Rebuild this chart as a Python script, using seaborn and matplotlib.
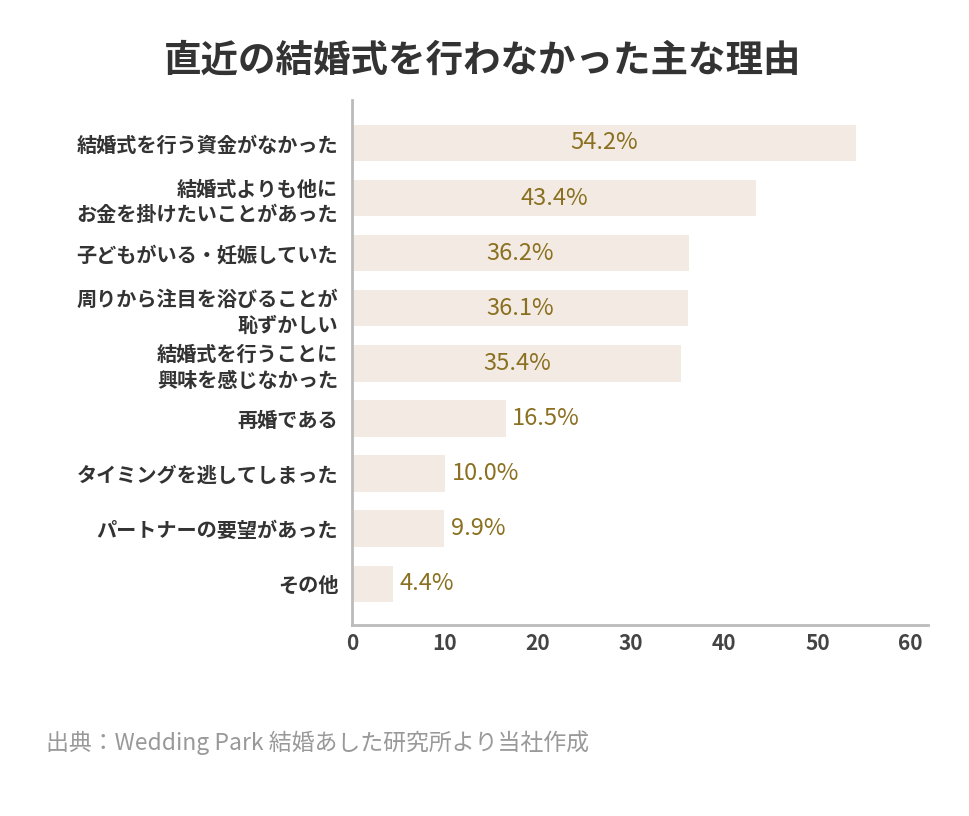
import matplotlib
matplotlib.use("Agg")
import matplotlib.pyplot as plt
import seaborn as sns
import pandas as pd

categories = ["結婚式を行う資金がなかった", "結婚式よりも他に\nお金を掛けたいことがあった", "子どもがいる・妊娠していた",
              "周りから注目を浴びることが\n恥ずかしい", "結婚式を行うことに\n興味を感じなかった", "再婚である",
              "タイミングを逃してしまった", "パートナーの要望があった", "その他"]
values = [54.2, 43.4, 36.2, 36.1, 35.4, 16.5, 10.0, 9.9, 4.4]
xticks = [0, 10, 20, 30, 40, 50, 60]

plt.rcParams["font.family"] = "Noto Sans CJK JP"
df = pd.DataFrame({"cat": categories, "val": values})
fig = plt.figure(figsize=(9.7, 8.16), dpi=100)
ax = fig.add_axes([352/970, 1-625/816, (928-352)/970, (625-100)/816])
sns.barplot(data=df, x="val", y="cat", color="#f3ebe3", saturation=1, width=0.66, ax=ax)
ax.set_xlim(0, 61.9)
ax.set_ylim(8.75, -0.78)
ax.set_xticks(xticks)
ax.tick_params(axis="x", labelsize=15, colors="#444444", length=0, pad=6)
ax.tick_params(axis="y", labelsize=14.5, length=0, pad=10)
for t in ax.get_yticklabels():
    t.set_fontweight("bold"); t.set_color("#333333"); t.set_linespacing(1.25)
for t in ax.get_xticklabels():
    t.set_fontweight("bold")
ax.set_xlabel(""); ax.set_ylabel("")
for s in ["top", "right"]:
    ax.spines[s].set_visible(False)
for s in ["left", "bottom"]:
    ax.spines[s].set_color("#bbbbbb"); ax.spines[s].set_linewidth(2)
for i, v in enumerate(values):
    if v > 20:
        ax.text(v/2, i, f"{v}%", ha="center", va="center", fontsize=17, color="#8a7020")
    else:
        ax.text(v+0.7, i, f"{v}%", ha="left", va="center", fontsize=17, color="#8a7020")
fig.text(0.498, 1-60/816, "直近の結婚式を行わなかった主な理由", ha="center", va="center",
         fontsize=27, fontweight="bold", color="#333333")
fig.text(46/970, 1-743/816, "出典：Wedding Park 結婚あした研究所より当社作成", ha="left", va="center",
         fontsize=16.5, color="#999999")
fig.savefig("out.png", dpi=100, facecolor="white")
